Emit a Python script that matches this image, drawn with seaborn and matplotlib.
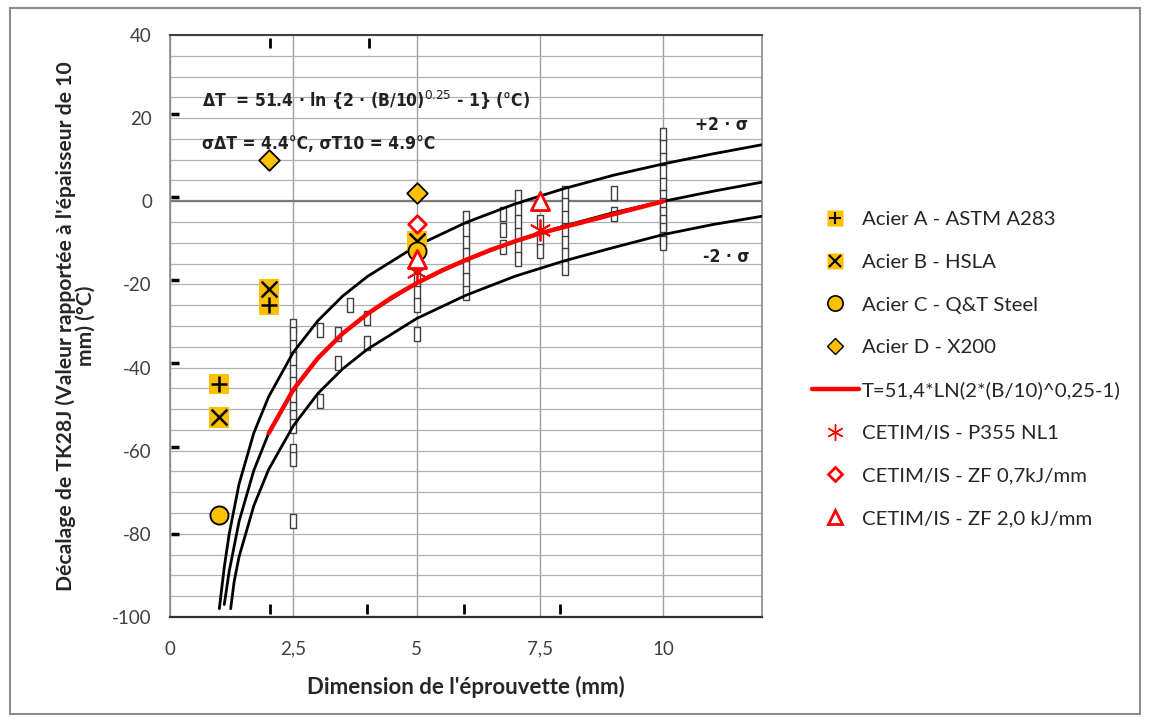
import numpy as np
import matplotlib
matplotlib.use("Agg")
import matplotlib.pyplot as plt
import seaborn as sns
from matplotlib.lines import Line2D
from matplotlib.patches import Rectangle
from matplotlib.ticker import FuncFormatter

# Excel series
acier_a_x = [1, 2]
acier_a_y = [-44, -25]
acier_b_x = [1, 2, 5]
acier_b_y = [-52, -21, -9.5]
acier_c_x = [1, 5]
acier_c_y = [-75.5, -12]
acier_d_x = [2, 5]
acier_d_y = [10, 2]
fit_x = [2, 2.5, 3, 3.5, 4, 4.5, 5, 5.5, 6, 6.5, 7, 7.5, 10]
fit_y = [-55.8, -45.3, -37.7, -31.8, -27.1, -23.1, -19.7, -16.7, -14.1, -11.7, -9.6, -7.7, 0]
p355_x = [5, 7.5]
p355_y = [-17, -7]
zf07_x = [5]
zf07_y = [-5.5]
zf20_x = [5, 7.5]
zf20_y = [-14, 0]

# scanned background: mean curve, +/-2 sigma curves and test results
mean_x = [1.1, 1.2, 1.4, 1.7, 2, 2.5, 3, 3.5, 4, 5, 6, 7, 8, 9, 10, 11, 12]
mean_y = [-97, -89, -77, -64.7, -55.8, -45.3, -37.7, -31.8, -27.1, -19.7, -14.1, -9.6, -5.9, -2.7, 0, 2.4, 4.6]
upper_x = [1.0, 1.1, 1.2, 1.4, 1.7, 2, 2.5, 3, 3.5, 4, 5, 6, 7, 8, 9, 10, 11, 12]
upper_y = [-98, -88, -80, -68, -55.7, -47, -36.3, -28.7, -22.8, -18.1, -10.7, -5.1, -0.6, 3.1, 6.3, 9.0, 11.4, 13.6]
lower_x = [1.23, 1.3, 1.4, 1.7, 2, 2.5, 3, 3.5, 4, 5, 6, 7, 8, 9, 10, 11, 12]
lower_y = [-98, -91.5, -85.5, -73.2, -64.5, -54, -46.2, -40.3, -35.6, -28.2, -22.6, -18, -14.3, -11.1, -8, -5.6, -3.6]

scan_x = [2.5, 2.5, 2.5, 2.5, 2.5, 2.5, 2.5, 2.5, 2.5, 2.5, 2.5, 2.5, 2.5,
          3.05, 3.05, 3.4, 3.4, 3.65, 4.0, 4.0,
          5, 5, 5, 5, 5, 5,
          6, 6, 6, 6, 6, 6, 6,
          6.75, 6.75, 6.75,
          7.05, 7.05, 7.05, 7.05, 7.05, 7.05,
          7.5, 7.5, 7.5,
          8, 8, 8, 8, 8, 8, 8,
          9, 9,
          10, 10, 10, 10, 10, 10, 10, 10, 10, 10, 10, 10]
scan_y = [-30, -32, -35, -38, -41, -44, -47, -50, -52, -54, -60, -62, -77,
          -31, -48, -32, -39, -25, -28, -34,
          -13, -16, -19, -22, -25, -32,
          -4, -7, -10, -13, -16, -19, -22,
          -3, -7, -11,
          1, -2, -5, -8, -11, -14,
          -5, -9, -12,
          2, -1, -4, -7, -10, -13, -16,
          2, -3,
          16, 13, 10, 7, 4, 1, -1, -3, -5, -7, -9, -10]
scan_left_ticks = [21, 1, -19, -39, -59, -80]
scan_bottom_ticks = [2.03, 4.0, 5.95, 7.9]
scan_top_ticks = [2.03, 4.03]

x_ticks = [0, 2.5, 5, 7.5, 10]
y_ticks = [-100, -80, -60, -40, -20, 0, 20, 40]

orange = "#FFC000"
red = "#FF0000"

sns.set_style("white")
plt.rcParams["font.family"] = ["Lato", "DejaVu Sans"]
plt.rcParams["axes.unicode_minus"] = False

fig = plt.figure(figsize=(11.49, 7.22), dpi=100)
ax = fig.add_axes([170 / 1149, 1 - 617 / 722, 592 / 1149, 582 / 722])

# background grid of the scanned chart
ax.set_yticks(y_ticks)
ax.set_yticks(np.arange(-100, 41, 5), minor=True)
ax.set_xticks(x_ticks)
ax.grid(True, which="both", axis="y", color="#b0b0b0", lw=0.9, zorder=0)
ax.grid(True, which="major", axis="x", color="#a0a0a0", lw=1.0, zorder=0)
ax.axhline(0, color="#7a7a7a", lw=1.6, zorder=1)

# scanned curves and results
rect = [(-0.42, -1), (0.42, -1), (0.42, 1), (-0.42, 1), (-0.42, -1)]
sns.scatterplot(x=scan_x, y=scan_y, marker=rect, s=100, facecolor="white",
                edgecolor="#404040", linewidth=1.0, ax=ax, zorder=2)
for cx, cy in [(upper_x, upper_y), (mean_x, mean_y), (lower_x, lower_y)]:
    sns.lineplot(x=cx, y=cy, color="black", lw=2.0, sort=False, estimator=None, ax=ax, zorder=3)

sns.scatterplot(x=np.zeros(len(scan_left_ticks)) + 0.1, y=scan_left_ticks, marker="_", s=40,
                color="black", linewidth=2.5, ax=ax, zorder=3)
sns.scatterplot(x=scan_bottom_ticks, y=np.zeros(len(scan_bottom_ticks)) - 98, marker="|", s=50,
                color="black", linewidth=2.0, ax=ax, zorder=3)
sns.scatterplot(x=scan_top_ticks, y=np.zeros(len(scan_top_ticks)) + 38, marker="|", s=50,
                color="black", linewidth=2.0, ax=ax, zorder=3)

scan_font = dict(family="DejaVu Sans", fontstretch="condensed", fontweight="bold", color="#222222")
ax.text(0.65, 24.3, "ΔT  = 51.4 · ln {2 · (B/10)$^{0.25}$ - 1} (°C)", va="center", fontsize=12.5, **scan_font)
ax.text(0.65, 13.8, "σΔT = 4.4°C, σT10 = 4.9°C", va="center", fontsize=12.5, **scan_font)
ax.text(10.65, 18.3, "+2 · σ", va="center", fontsize=12.5, **scan_font)
ax.text(10.8, -13.5, "-2 · σ", va="center", fontsize=12.5, **scan_font)

# Excel series
sns.scatterplot(x=acier_a_x, y=acier_a_y, marker="s", s=210, color=orange, edgecolor="none", ax=ax, zorder=5)
sns.scatterplot(x=acier_a_x, y=acier_a_y, marker="+", s=130, color="black", linewidth=1.8, ax=ax, zorder=6)
sns.scatterplot(x=acier_b_x, y=acier_b_y, marker="s", s=210, color=orange, edgecolor="none", ax=ax, zorder=5)
sns.scatterplot(x=acier_b_x, y=acier_b_y, marker="x", s=130, color="black", linewidth=1.8, ax=ax, zorder=6)
sns.scatterplot(x=acier_c_x, y=acier_c_y, marker="o", s=170, color=orange, edgecolor="black", linewidth=1.3,
                ax=ax, zorder=7)
sns.scatterplot(x=acier_d_x, y=acier_d_y, marker="D", s=110, color=orange, edgecolor="black", linewidth=1.3,
                ax=ax, zorder=7)
sns.lineplot(x=fit_x, y=fit_y, color=red, lw=3.2, sort=False, estimator=None, ax=ax, zorder=8)
sns.scatterplot(x=p355_x, y=p355_y, marker=(6, 2, 0), s=220, color=red, linewidth=1.3, ax=ax, zorder=9)
sns.scatterplot(x=zf07_x, y=zf07_y, marker="D", s=80, color="white", edgecolor=red, linewidth=2.0,
                ax=ax, zorder=9)
sns.scatterplot(x=zf20_x, y=zf20_y, marker="^", s=170, color="white", edgecolor=red, linewidth=2.0,
                ax=ax, zorder=9)

ax.set_xlim(0, 12)
ax.set_ylim(-100, 40)
ax.xaxis.set_major_formatter(FuncFormatter(lambda v, p: f"{v:g}".replace(".", ",")))
ax.tick_params(axis="x", length=0, pad=17, labelsize=13.5, colors="#404040")
ax.tick_params(axis="y", which="major", direction="out", length=6, width=1, color="#888888",
               pad=7, labelsize=13.5, labelcolor="#404040")
ax.tick_params(axis="y", which="minor", length=0)

for side in ["left", "right"]:
    ax.spines[side].set_color("#8a8a8a")
    ax.spines[side].set_linewidth(1.2)
ax.spines["top"].set_color("#404040")
ax.spines["top"].set_linewidth(1.5)
ax.spines["bottom"].set_color("#303030")
ax.spines["bottom"].set_linewidth(1.6)

ax.set_xlabel("Dimension de l'éprouvette (mm)", fontsize=16, fontweight="bold", labelpad=13)
ax.set_ylabel("Décalage de TK28J (Valeur rapportée à l'épaisseur de 10\nmm) (°C)",
              fontsize=15.2, fontweight="bold", labelpad=12, linespacing=1.0)

handles = [
    (Line2D([], [], marker="s", ms=11, mfc=orange, mec="none", ls=""),
     Line2D([], [], marker="+", ms=9, color="black", mew=1.5, ls="")),
    (Line2D([], [], marker="s", ms=11, mfc=orange, mec="none", ls=""),
     Line2D([], [], marker="x", ms=9, color="black", mew=1.5, ls="")),
    Line2D([], [], marker="o", ms=11, mfc=orange, mec="black", mew=1.2, ls=""),
    Line2D([], [], marker="D", ms=8, mfc=orange, mec="black", mew=1.0, ls=""),
    Line2D([], [], color=red, lw=3.2),
    Line2D([], [], marker=(6, 2, 0), ms=12, color=red, mew=1.0, ls=""),
    Line2D([], [], marker="D", ms=7, mfc="white", mec=red, mew=2.0, ls=""),
    Line2D([], [], marker="^", ms=10, mfc="white", mec=red, mew=2.0, ls=""),
]
labels = ["Acier A - ASTM A283", "Acier B - HSLA", "Acier C - Q&T Steel", "Acier D - X200",
          "T=51,4*LN(2*(B/10)^0,25-1)", "CETIM/IS - P355 NL1", "CETIM/IS - ZF 0,7kJ/mm",
          "CETIM/IS - ZF 2,0 kJ/mm"]
fig.legend(handles, labels, loc="upper left", bbox_to_anchor=(812 / 1149, 1 - 211 / 722),
           frameon=False, fontsize=14.7, handlelength=2.3, handletextpad=0.15, labelspacing=1.24,
           borderpad=0, borderaxespad=0, labelcolor="#262626")

fig.patches.append(Rectangle((10 / 1149, 8 / 722), 1130 / 1149, 706 / 722, transform=fig.transFigure,
                             fill=False, edgecolor="#8c8c8c", lw=1.5))

fig.savefig("out.png", dpi=100)
